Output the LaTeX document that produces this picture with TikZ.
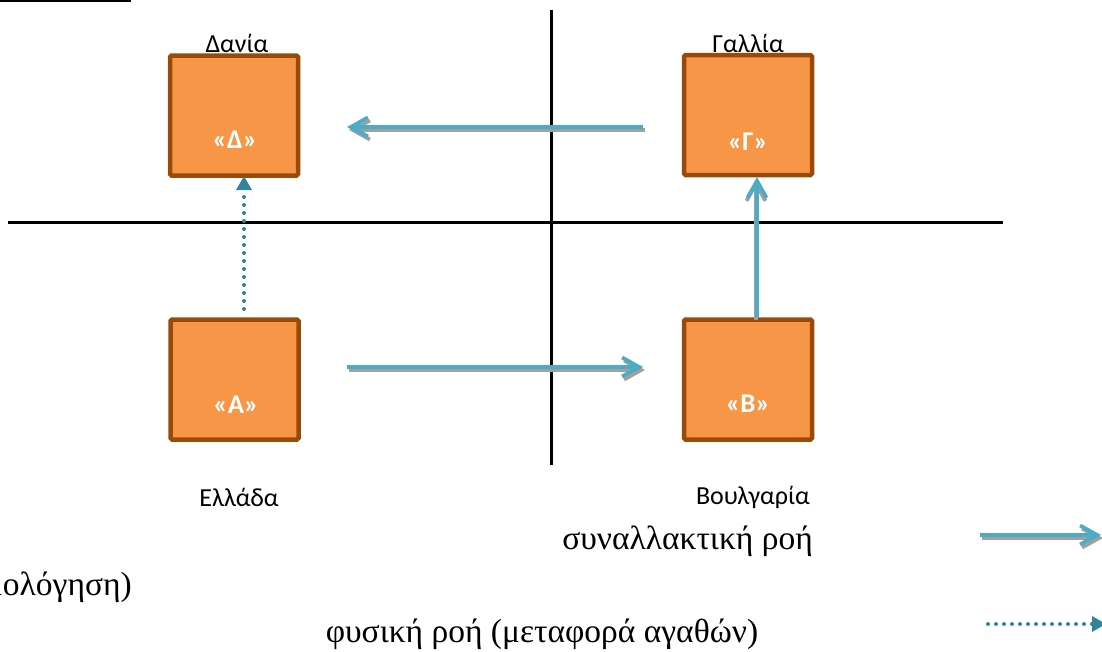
\documentclass[tikz,border=0pt]{standalone}
\usepackage{fontspec}
\setmainfont{Carlito}
\newfontfamily\serifgr{Liberation Serif}
\usetikzlibrary{arrows.meta,calc}
\definecolor{boxfill}{HTML}{F79646}
\definecolor{boxline}{HTML}{9A4A08}
\definecolor{flowblue}{HTML}{4BACC6}
\definecolor{flowteal}{HTML}{31849B}
\definecolor{shadowgray}{HTML}{A0A0A0}
\tikzset{
  country/.style={draw=boxline, fill=boxfill, line width=4.5pt, rounded corners=1.5pt,
    minimum width=128pt, minimum height=120pt, inner sep=0pt},
  boxlabel/.style={text=white, font=\fontsize{27}{32}\selectfont\bfseries, inner sep=0pt},
  cname/.style={font=\fontsize{26}{30}\selectfont, inner sep=0pt},
  legendtext/.style={font=\serifgr\fontsize{33.5}{38}\selectfont, inner sep=0pt},
  axis/.style={draw=black, line width=3pt},
  txflow/.style={draw=flowblue, line width=3.8pt, -{Straight Barb[length=17pt,width=19pt]}},
  txshadow/.style={draw=shadowgray, line width=3.8pt, -{Straight Barb[length=17pt,width=19pt]}},
  physflow/.style={draw=flowteal, line width=4pt, line cap=round, dash pattern=on 0pt off 8pt,
    -{Triangle[length=14pt,width=15pt]}},
}
\begin{document}
\begin{tikzpicture}[x=1pt,y=-1pt]
\clip (0,0) rectangle (1102,651);
\fill[white] (0,0) rectangle (1102,651);
% cut-off underline at top
\draw[black, line width=1.6pt] (0,0.8) -- (131,0.8);
% axes
\coordinate (vtop) at (551,10);
\coordinate (vbot) at (551,465);
\coordinate (hleft) at (8,222);
\coordinate (hright) at (1003,222);
\draw[axis] (vtop) -- (vbot);
\draw[axis] (hleft) -- (hright);
% boxes
\node[country] (D) at (234,115.5) {};
\node[country] (G) at (748,115) {};
\node[country] (A) at (234.5,379.5) {};
\node[country] (B) at (748,379.5) {};
\node[boxlabel] (Dl) at (235,140) {«Δ»};
\node[boxlabel] (Gl) at (748,142) {«Γ»};
\node[boxlabel] (Al) at (236,405) {«Α»};
\node[boxlabel] (Bl) at (748,404) {«Β»};
\node[cname] (Dn) at (237,43) {Δανία};
\node[cname] (Gn) at (748,43) {Γαλλία};
\node[cname] (An) at (239,497) {Ελλάδα};
\node[cname] (Bn) at (753,497) {Βουλγαρία};
% transaction flows
\coordinate (GDs) at (643,127);
\coordinate (GDe) at (347,127);
\coordinate (ABs) at (347,367);
\coordinate (ABe) at (643,367);
\coordinate (BGs) at (757,317);
\coordinate (BGe) at (757,177);
\draw[txshadow] ($(GDs)+(2,3)$) -- ($(GDe)+(2,3)$);
\draw[txflow] (GDs) -- (GDe);
\draw[txshadow] ($(ABs)+(2,3)$) -- ($(ABe)+(2,3)$);
\draw[txflow] (ABs) -- (ABe);
\draw[txshadow] ($(BGs)+(-1,3)$) -- ($(BGe)+(-1,3)$);
\draw[txflow] (BGs) -- (BGe);
% physical flow
\coordinate (ADs) at (244,309);
\coordinate (ADe) at (244,176);
\draw[physflow] (ADs) -- (ADe);
% legend
\node[legendtext] (L1) at (687.5,541) {συναλλακτική ροή};
\node[legendtext, anchor=east] (L1b) at (132,587) {(τιμολόγηση)};
\node[legendtext] (L2) at (542,634) {φυσική ροή (μεταφορά αγαθών)};
\coordinate (LTs) at (980,535);
\coordinate (LTe) at (1101,535);
\draw[txshadow] ($(LTs)+(2,3)$) -- ($(LTe)+(2,3)$);
\draw[txflow] (LTs) -- (LTe);
\coordinate (LPs) at (988,624);
\coordinate (LPe) at (1106,624);
\draw[physflow] (LPs) -- (LPe);
\end{tikzpicture}
\end{document}
